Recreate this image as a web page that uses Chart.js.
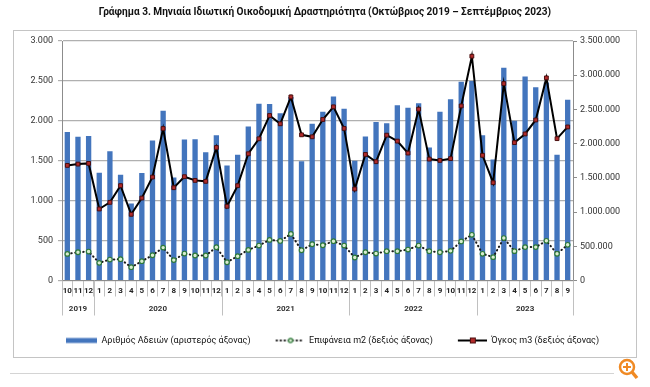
<!DOCTYPE html>
<html>
<head>
<meta charset="utf-8">
<script src="https://cdn.jsdelivr.net/npm/chart.js@4.4.1/dist/chart.umd.min.js"></script>
<style>
  html, body { margin: 0; padding: 0; background: #fff; }
</style>
</head>
<body>
<canvas id="myChart" width="650" height="387"></canvas>
<script>
// etiquetas del eje x (Οκτ 2019 - Σεπ 2023)
const meses = ["10","11","12",
  "1","2","3","4","5","6","7","8","9","10","11","12",
  "1","2","3","4","5","6","7","8","9","10","11","12",
  "1","2","3","4","5","6","7","8","9","10","11","12",
  "1","2","3","4","5","6","7","8","9"];
const anios = ["2019", "2020", "2021", "2022", "2023"];
const mesesPorAnio = [3, 12, 12, 12, 9];

// Αριθμός Αδειών (eje izquierdo)
const adeies = [1860, 1800, 1810,
  1350, 1620, 1325, 965, 1345, 1755, 2125, 1290, 1765, 1770, 1605, 1820,
  1440, 1575, 1930, 2215, 2210, 2095, 2300, 1495, 1965, 2115, 2305, 2150,
  1500, 1805, 1985, 1970, 2195, 2165, 2220, 1665, 2115, 2270, 2490, 2500,
  1820, 1515, 2665, 2000, 2555, 2420, 2480, 1575, 2265];

// Επιφάνεια m2 (eje derecho)
const epifaneia = [389000, 413000, 423000,
  258000, 306000, 311000, 194000, 282000, 369000, 481000, 298000, 394000, 365000, 365000, 486000,
  267000, 355000, 447000, 511000, 593000, 578000, 680000, 442000, 530000, 515000, 574000, 511000,
  336000, 413000, 394000, 428000, 428000, 452000, 511000, 428000, 413000, 433000, 571000, 668000,
  390000, 341000, 620000, 429000, 488000, 488000, 580000, 390000, 522000];

// Όγκος m3 (eje derecho)
const ogkos = [1682000, 1701000, 1711000,
  1045000, 1142000, 1386000, 967000, 1205000, 1512000, 2221000, 1356000, 1517000, 1463000, 1449000, 1944000,
  1084000, 1386000, 1852000, 2071000, 2411000, 2290000, 2683000, 2129000, 2100000, 2353000, 2538000, 2222000,
  1337000, 1842000, 1736000, 2124000, 2037000, 1862000, 2504000, 1774000, 1755000, 1781000, 2551000, 3278000,
  1829000, 1429000, 2878000, 2015000, 2142000, 2346000, 2961000, 2073000, 2244000];

const titulo = "Γράφημα 3. Μηνιαία Ιδιωτική Οικοδομική Δραστηριότητα (Οκτώβριος 2019 – Σεπτέμβριος 2023)";
const fuente = "Roboto, 'Open Sans', sans-serif";
const fuenteEstrecha = "'Liberation Sans Narrow', Roboto, sans-serif";

function puntos(v) {
  return String(v).replace(/\B(?=(\d{3})+(?!\d))/g, ".");
}

// tamaño del título para que ocupe unos 453px como en el original
function tamTitulo() {
  const g = document.createElement("canvas").getContext("2d");
  g.font = "bold 12px " + fuenteEstrecha;
  const w = g.measureText(titulo).width;
  return Math.min(12.5, 12 * 453 / w);
}

// iconos de la leyenda (espacio en blanco a la izquierda para separar los items)
function icono(tipo) {
  const c = document.createElement("canvas");
  c.width = 46; c.height = 8;
  const g = c.getContext("2d");
  if (tipo == "bar") {
    g.fillStyle = "#4375bd";
    g.fillRect(15, 1.5, 31, 5);
  } else if (tipo == "dots") {
    g.strokeStyle = "#1a1a1a"; g.lineWidth = 2; g.lineCap = "round";
    g.setLineDash([0.5, 3.5]);
    g.beginPath(); g.moveTo(18, 4); g.lineTo(46, 4); g.stroke();
    g.setLineDash([]);
    g.fillStyle = "#d8ecd0"; g.strokeStyle = "#2f7a3a"; g.lineWidth = 1.2;
    g.beginPath(); g.arc(32, 4, 2.2, 0, Math.PI * 2); g.fill(); g.stroke();
  } else {
    g.strokeStyle = "#000"; g.lineWidth = 2;
    g.beginPath(); g.moveTo(17, 4); g.lineTo(46, 4); g.stroke();
    g.fillStyle = "#b22a2a"; g.strokeStyle = "#4a0f0f"; g.lineWidth = 1;
    g.fillRect(29.5, 1.5, 5, 5); g.strokeRect(29.5, 1.5, 5, 5);
  }
  return c;
}
const iconos = [icono("bar"), icono("dots"), icono("line")];

const marco = {
  id: "marco",
  beforeDraw(chart) {
    const ctx = chart.ctx;
    ctx.save();
    ctx.fillStyle = "#fff";
    ctx.fillRect(0, 0, chart.width, chart.height);
    ctx.strokeStyle = "#c4c4c4";
    ctx.lineWidth = 1;
    ctx.strokeRect(13.5, 30.5, 623, 327);
    ctx.strokeStyle = "#d4d4d4";
    ctx.beginPath(); ctx.moveTo(10, 373.5); ctx.lineTo(614, 373.5); ctx.stroke();
    // lupa
    ctx.strokeStyle = "#f08a24"; ctx.lineWidth = 2.5;
    ctx.beginPath(); ctx.arc(627, 367, 7, 0, Math.PI * 2); ctx.stroke();
    ctx.beginPath(); ctx.moveTo(632, 372); ctx.lineTo(637, 378); ctx.lineWidth = 3.5; ctx.stroke();
    ctx.lineWidth = 2;
    ctx.beginPath(); ctx.moveTo(623, 367); ctx.lineTo(631, 367); ctx.moveTo(627, 363); ctx.lineTo(627, 371); ctx.stroke();
    ctx.restore();
  },
  afterDraw(chart) {
    const ctx = chart.ctx;
    const x = chart.scales.x;
    const y0 = chart.chartArea.bottom;
    ctx.save();
    ctx.strokeStyle = "#c0c0c0";
    ctx.lineWidth = 1;
    ctx.fillStyle = "#333";
    ctx.font = "bold 8px " + fuente;
    ctx.textAlign = "center";
    ctx.textBaseline = "middle";
    let ini = 0;
    for (let i = 0; i < anios.length; i++) {
      const fin = ini + mesesPorAnio[i] - 1;
      const xa = ini == 0 ? x.left : (x.getPixelForValue(ini - 1) + x.getPixelForValue(ini)) / 2;
      const xb = fin == meses.length - 1 ? x.right : (x.getPixelForValue(fin) + x.getPixelForValue(fin + 1)) / 2;
      ctx.beginPath();
      ctx.moveTo(Math.round(xa) + 0.5, y0);
      ctx.lineTo(Math.round(xa) + 0.5, y0 + 35);
      if (i == anios.length - 1) {
        ctx.moveTo(Math.round(xb) + 0.5, y0);
        ctx.lineTo(Math.round(xb) + 0.5, y0 + 35);
      }
      ctx.stroke();
      ctx.fillText(anios[i], (xa + xb) / 2, y0 + 28);
      ini = fin + 1;
    }
    ctx.restore();
  }
};

const tam = tamTitulo();

const ctx = document.getElementById("myChart").getContext("2d");
const myChart = new Chart(ctx, {
  data: {
    labels: meses,
    datasets: [
      {
        type: "bar",
        label: "Αριθμός Αδειών (αριστερός άξονας)",
        data: adeies,
        yAxisID: "y",
        backgroundColor: "#4375bd",
        barPercentage: 0.5,
        categoryPercentage: 1,
        order: 3,
      },
      {
        type: "line",
        label: "Επιφάνεια m2 (δεξιός άξονας)",
        data: epifaneia,
        yAxisID: "y1",
        borderColor: "#1a1a1a",
        borderWidth: 2,
        borderDash: [0.5, 3.5],
        borderCapStyle: "round",
        pointStyle: "circle",
        pointRadius: 2.3,
        pointBackgroundColor: "#d8ecd0",
        pointBorderColor: "#2f7a3a",
        pointBorderWidth: 1.2,
        order: 2,
      },
      {
        type: "line",
        label: "Όγκος m3 (δεξιός άξονας)",
        data: ogkos,
        yAxisID: "y1",
        borderColor: "#000",
        borderWidth: 2,
        pointStyle: "rect",
        pointRadius: 2.7,
        pointBackgroundColor: "#b22a2a",
        pointBorderColor: "#4a0f0f",
        pointBorderWidth: 1,
        order: 1,
      },
    ],
  },
  options: {
    responsive: false,
    animation: false,
    layout: { padding: { left: 20, right: 20, top: 0, bottom: 32 } },
    scales: {
      x: {
        offset: true,
        grid: { offset: true, drawOnChartArea: false, tickLength: 16, color: "#c0c0c0" },
        border: { color: "#8c8c8c" },
        ticks: {
          autoSkip: false, maxRotation: 0, minRotation: 0, padding: -10,
          color: "#222", font: { family: fuente, size: 8, weight: "bold" },
        },
        afterFit: function (scale) { scale.height = 47.5; },
      },
      y: {
        position: "left",
        min: 0, max: 3000,
        ticks: { stepSize: 500, padding: 5, color: "#333", font: { family: fuente, size: 9 },
          callback: function (v) { return puntos(v); } },
        grid: { color: "#b0b0b0", lineWidth: 1.2, tickLength: 4 },
        border: { color: "#8c8c8c" },
        afterFit: function (scale) { scale.width = 42; },
      },
      y1: {
        position: "right",
        min: 0, max: 3500000,
        ticks: { stepSize: 500000, padding: 3, color: "#333", font: { family: fuente, size: 9 },
          callback: function (v) { return puntos(v); } },
        grid: { drawOnChartArea: false, color: "#8c8c8c", tickLength: 4 },
        border: { color: "#8c8c8c" },
        afterFit: function (scale) { scale.width = 57; },
      },
    },
    plugins: {
      title: {
        display: true,
        text: titulo,
        color: "#111",
        font: { family: fuenteEstrecha, size: tam, weight: "bold" },
        padding: { top: 12 - tam * 0.6, bottom: 41 - 12 - tam * 0.6 },
      },
      legend: {
        position: "bottom",
        labels: {
          usePointStyle: true,
          pointStyleWidth: 46,
          padding: 8,
          color: "#111",
          font: { family: fuenteEstrecha, size: 9 },
          sort: function (a, b) { return a.datasetIndex - b.datasetIndex; },
          generateLabels: function (chart) {
            const items = Chart.defaults.plugins.legend.labels.generateLabels(chart);
            items.forEach(function (it) { it.pointStyle = iconos[it.datasetIndex]; });
            return items;
          },
        },
      },
      tooltip: { enabled: false },
    },
  },
  plugins: [marco],
});
</script>
</body>
</html>
